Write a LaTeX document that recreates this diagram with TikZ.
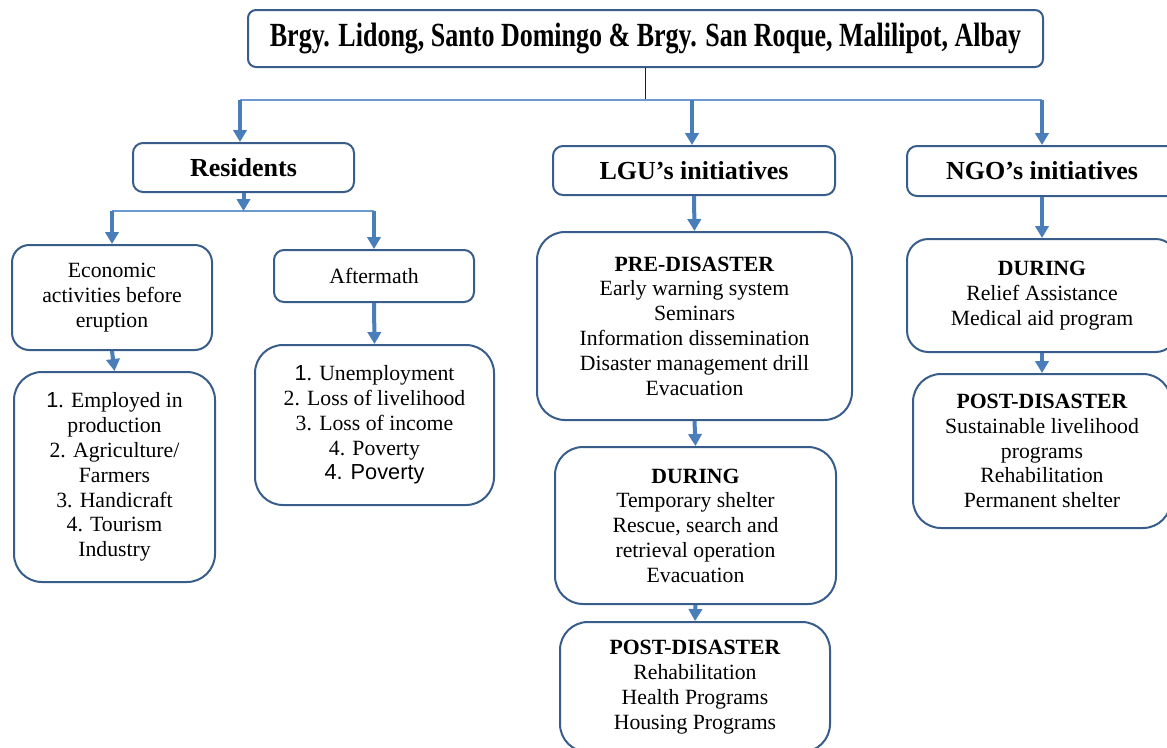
\documentclass[tikz,border=0pt]{standalone}
\usepackage{fontspec}
\setmainfont{Liberation Serif}
\newfontfamily\arialfont{Liberation Sans}
\usetikzlibrary{arrows.meta}
\definecolor{boxline}{HTML}{385D8A}
\definecolor{arrowline}{HTML}{4A7EBB}
\definecolor{barline}{HTML}{6C9AD0}
\tikzset{
  box/.style={draw=boxline, line width=1.5pt, rectangle, align=center, inner sep=0pt,
    font=\fontsize{16.3}{18.6}\selectfont},
  smallbox/.style={box, rounded corners=7.5pt},
  bigbox/.style={box, rounded corners=21pt},
  headbox/.style={smallbox, font=\fontsize{19.5}{22}\selectfont\bfseries},
  arr/.style={draw=arrowline, line width=3pt, -{Triangle[width=10pt,length=9pt]}},
  bar/.style={draw=barline, line width=2pt},
}
\begin{document}
\begin{tikzpicture}[x=0.75pt,y=-0.75pt]

      \useasboundingbox (0,0) rectangle (1167,747);
      \clip (0,0) rectangle (1167,747);

      % top title
      \node[headbox, rounded corners=6pt, minimum width=596.25pt, minimum height=42.75pt] (top) at (645.5,38.5)
        {\scalebox{1}[1.3]{Brgy. Lidong, Santo Domingo \& Brgy. San Roque, Malilipot, Albay}};

      % second level
      \node[headbox, minimum width=165.75pt, minimum height=36.75pt] (residents) at (243.5,167.5) {Residents};
      \node[headbox, minimum width=211.5pt, minimum height=36.75pt] (lgu) at (694,170.5) {LGU’s initiatives};
      \node[headbox, minimum width=202.5pt, minimum height=37.5pt] (ngo) at (1042,171) {NGO’s initiatives};

      % residents branch
      \node[box, rounded corners=13pt, minimum width=150pt, minimum height=78.75pt] (econ) at (112,297.5)
        {Economic\\activities before\\eruption};
      \node[smallbox, minimum width=150pt, minimum height=39pt] (after) at (374,276) {Aftermath};
      \node[bigbox, minimum width=150.75pt, minimum height=157.5pt] (employ) at (114.5,477)
        {{\arialfont 1}. Employed in\\production\\2. Agriculture/\\Farmers\\3. Handicraft\\4. Tourism\\Industry};
      \node[bigbox, minimum width=179.25pt, minimum height=120pt] (unemp) at (374.5,425)
        {{\arialfont 1}. Unemployment\\2. Loss of livelihood\\3. Loss of income\\4. Poverty\\{\arialfont 4. Poverty}};

      % LGU branch
      \node[bigbox, minimum width=236.25pt, minimum height=141pt] (lpre) at (694.5,326)
        {\textbf{PRE-DISASTER}\\Early warning system\\Seminars\\Information dissemination\\Disaster management drill\\Evacuation};
      \node[bigbox, minimum width=210.75pt, minimum height=117.75pt] (lduring) at (695.5,525.5)
        {\textbf{DURING}\\Temporary shelter\\Rescue, search and\\retrieval operation\\Evacuation};
      \node[bigbox, minimum width=202.5pt, minimum height=97.5pt] (lpost) at (695,687)
        {\textbf{POST-DISASTER}\\Rehabilitation\\Health Programs\\Housing Programs};

      % NGO branch
      \node[box, rounded corners=16pt, minimum width=202.5pt, minimum height=84.75pt] (ndur) at (1042,295.5)
        {\textbf{DURING}\\Relief Assistance\\Medical aid program};
      \node[bigbox, minimum width=193.5pt, minimum height=115.5pt] (npost) at (1042,451)
        {\textbf{POST-DISASTER}\\Sustainable livelihood\\programs\\Rehabilitation\\Permanent shelter};

      % junctions
      \coordinate (hub) at (645.5,100);
      \coordinate (hubl) at (240,100);
      \coordinate (hubm) at (692,100);
      \coordinate (hubr) at (1042,100);
      \coordinate (rhub) at (243.5,211);
      \coordinate (rhubl) at (112,211);
      \coordinate (rhubr) at (374,211);

      % connectors
      \draw[blue, line width=0.8pt] (top.south) -- (hub);                 % thin stem
      \draw[bar] (hubl) -- (hubr);                                         % top bar
      \draw[arr] (hubl) -- (hubl |- residents.north);
      \draw[arr] (hubm) -- (hubm |- lgu.north);
      \draw[arr] (hubr) -- (ngo.north);

      \draw[bar] (rhubl) -- (rhubr);                                       % residents bar
      \draw[arr] (residents.south) -- (rhub);
      \draw[arr] (rhubl) -- (econ.north);
      \draw[arr] (rhubr) -- (after.north);
      \draw[arr] (econ.south) -- (employ.north);
      \draw[arr] (after.south) -- (unemp.north);

      \draw[arr] (lgu.south) -- (lpre.north);
      \draw[arr] (lpre.south) -- (lduring.north);
      \draw[arr] (lduring.south) -- (lpost.north);

      \draw[arr] (ngo.south) -- (ndur.north);
      \draw[arr] (ndur.south) -- (npost.north);

\end{tikzpicture}
\end{document}
